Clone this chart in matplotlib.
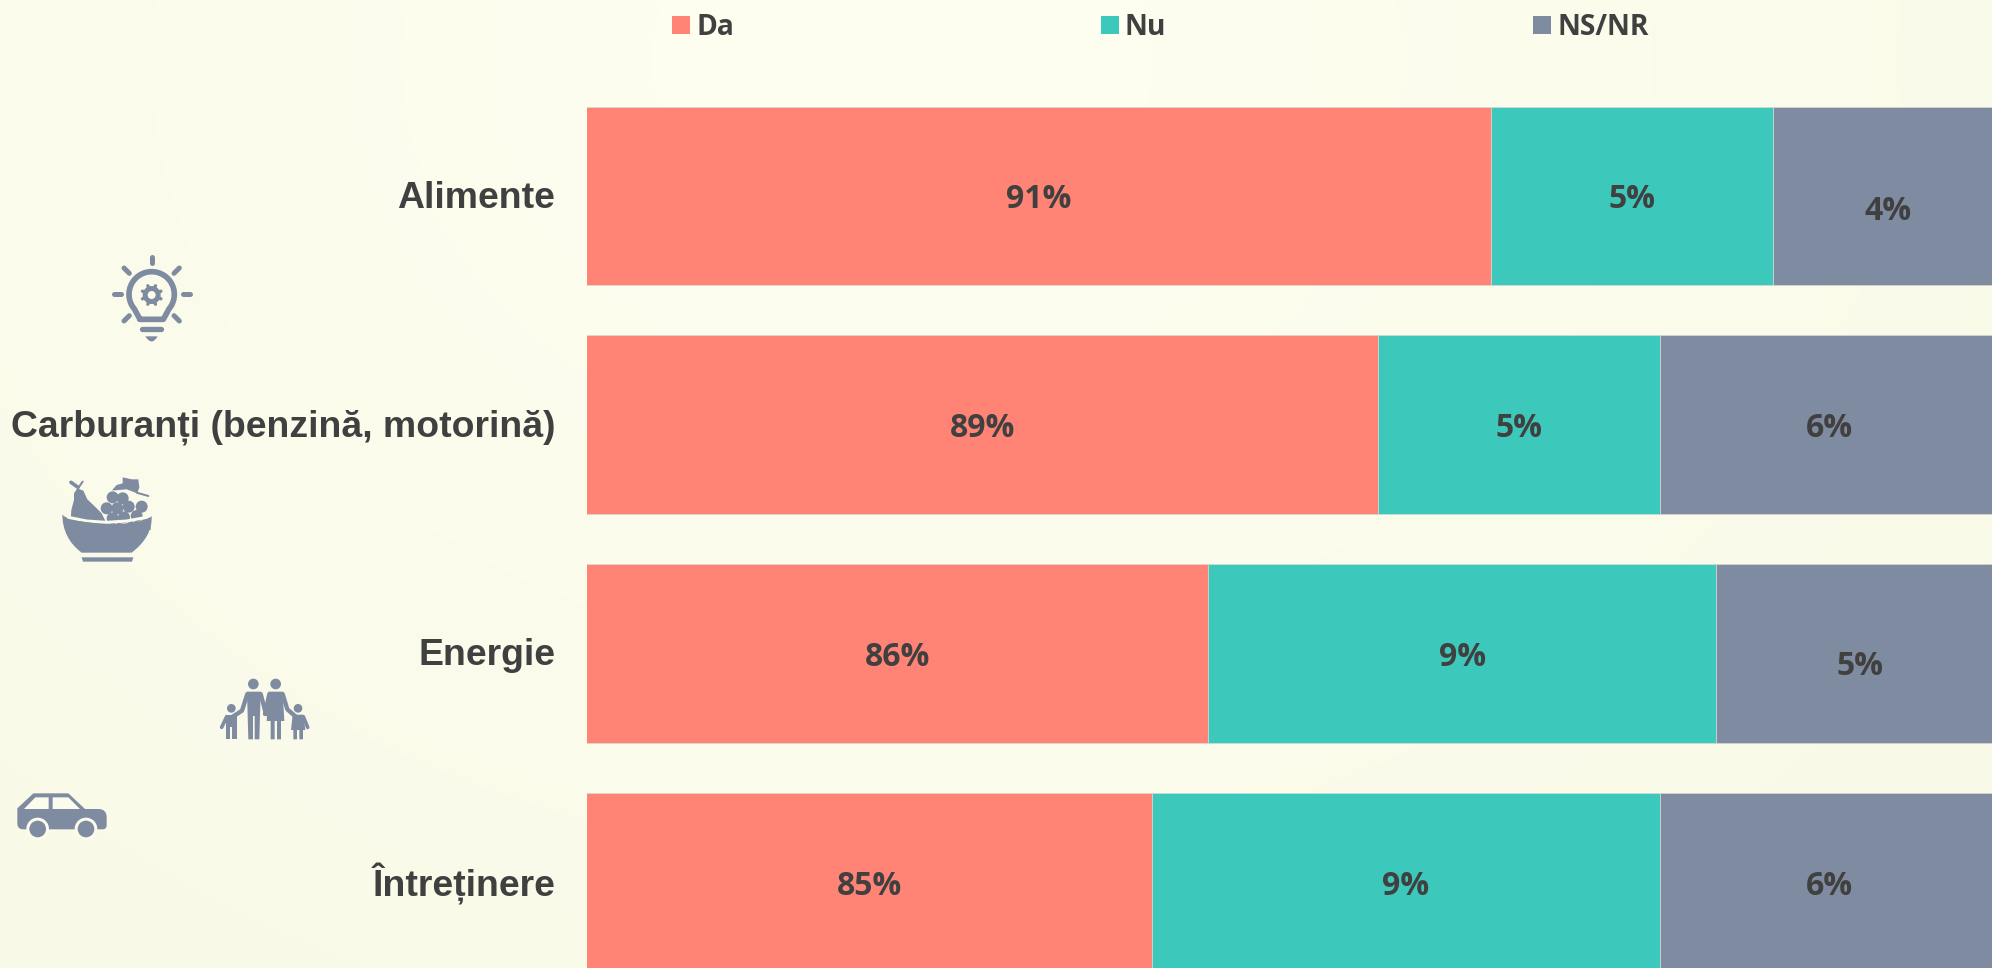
import numpy as np
import matplotlib
matplotlib.use("Agg")
import matplotlib.pyplot as plt
from matplotlib.patches import Circle, Polygon, PathPatch, Patch
from matplotlib.path import Path
from matplotlib.transforms import ScaledTranslation

categories = ["Alimente", "Carburanți (benzină, motorină)", "Energie", "Întreținere"]
da = [91, 89, 86, 85]
nu = [5, 5, 9, 9]
nsnr = [4, 6, 5, 6]
series_names = ["Da", "Nu", "NS/NR"]
series_values = [da, nu, nsnr]
colors = ["#FF8475", "#3CC9BC", "#7F8BA0"]
label_shift_px = [[(0, 0), (0, 0), (2.5, -12)], [(0, 0), (0, 0), (0, 0)],
                  [(0, 0), (0, 0), (2.5, -9)], [(0, 0), (0, 0), (0, 0)]]

TXT = "#404040"
ICON = "#7F8BA0"
BG = "#FBFCEC"
W, H = 1992, 968
X_START = 75
fig = plt.figure(figsize=(W / 100, H / 100), dpi=100)

# soft background wash
bg = fig.add_axes([0, 0, 1, 1], zorder=0)
yy, xx = np.mgrid[0:H:2, 0:W:4]
d = np.clip(np.hypot((xx - 900) / 1250, (yy - 60) / 1000), 0, 1)[..., None]
c0 = np.array([0xFE, 0xFF, 0xF1]) / 255
c1 = np.array([0xF9, 0xFA, 0xE8]) / 255
bg.imshow(c0 + (c1 - c0) * d, extent=(0, W, H, 0), aspect="auto", interpolation="bilinear")
bg.axis("off")

# chart axes: spans from the first bar's left edge to the right/bottom of the image
L = 587
ax = fig.add_axes([L / W, 0, (W - L) / W, 1], zorder=1)
ax.patch.set_alpha(0)
px_per_unit = 56.47
pitch = 228.7
ax.set_xlim(X_START, X_START + (W - L) / px_per_unit)
ax.set_ylim((H - 196.0) / pitch, -196.0 / pitch)
y = np.arange(len(categories))
left = np.zeros(len(categories))
for s, (name, vals, col) in enumerate(zip(series_names, series_values, colors)):
    ax.barh(y, vals, left=left, height=178.5 / pitch, color=col, label=name,
            edgecolor="#D5DAD6", linewidth=0.5)
    for i, (v, l) in enumerate(zip(vals, left)):
        dx, dy = label_shift_px[i][s]
        cx = (max(l, X_START) + l + v) / 2
        ax.annotate(f"{v}%", (cx, i), xytext=(dx * 0.72, (dy - 4) * 0.72), textcoords="offset points",
                    ha="center", va="center", fontsize=23, fontweight="bold", family="Open Sans", color=TXT)
    left = left + np.array(vals)
ax.set_yticks(y, categories, fontsize=26.9, fontweight="bold", family="Liberation Sans", color=TXT)
ax.set_xticks([])
ax.tick_params(axis="y", length=0, pad=23)
shift = ScaledTranslation(0, 2 / 100, fig.dpi_scale_trans)
for t in ax.get_yticklabels():
    t.set_transform(t.get_transform() + shift)
for sp in ax.spines.values():
    sp.set_visible(False)

handles = [Patch(facecolor=c, label=n) for c, n in zip(colors, series_names)]
fig.legend(handles=handles, ncol=3, loc="upper left", bbox_to_anchor=(672 / W, 1 - 13 / H),
           bbox_transform=fig.transFigure, frameon=False, borderpad=0, borderaxespad=0,
           prop={"family": "Open Sans", "weight": "bold", "size": 20.3},
           labelcolor=TXT, handlelength=0.64, handleheight=0.64, handletextpad=0.22, columnspacing=13.0)

# icons, overlay in pixel coordinates
ov = fig.add_axes([0, 0, 1, 1], zorder=2)
ov.set_xlim(0, W)
ov.set_ylim(H, 0)
ov.axis("off")
ov.patch.set_alpha(0)

def z1(*p):
    return (p[0] / 3, 230 + p[1] / 3)
def z2(*p):
    return (p[0] / 3, 640 + p[1] / 3)
def line(z, pts, w, color=ICON, cap="round"):
    xy = np.array([z(*p) for p in pts])
    ov.plot(xy[:, 0], xy[:, 1], color=color, lw=w / 3 * 0.72, solid_capstyle=cap, solid_joinstyle="round", zorder=1)
def poly(z, pts, color=ICON):
    ov.add_patch(Polygon([z(*p) for p in pts], closed=True, fc=color, ec="none", zorder=1))
def circ(z, c, r, color=ICON):
    ov.add_patch(Circle(z(*c), r / 3, fc=color, ec="none", zorder=1))
def curve(z, verts, codes, color=ICON):
    ov.add_patch(PathPatch(Path([z(*v) for v in verts], codes), fc=color, ec="none", zorder=1))
M, L_, C3, CL = Path.MOVETO, Path.LINETO, Path.CURVE3, Path.CLOSEPOLY

# bulb
for a, b in [((455, 80), (455, 100)), ((341, 193), (362, 193)), ((548, 193), (569, 193)),
             ((372, 114), (388, 130)), ((538, 114), (522, 130)), ((372, 273), (388, 257)), ((538, 273), (522, 257))]:
    line(z1, [a, b], 15)
outline = [(420, 268)] + [(455 + 68 * np.cos(t), 193 - 68 * np.sin(t))
                          for t in np.radians(np.linspace(220, -40, 40))] + [(490, 268), (420, 268)]
line(z1, outline, 17)
line(z1, [(427, 296), (483, 296)], 16)
curve(z1, [(436, 319), (473, 319), (455, 350), (436, 319), (436, 319)], [M, L_, C3, C3, CL])
circ(z1, (455, 195), 27)
for t in np.radians(np.arange(0, 360, 45) + 22.5):
    line(z1, [(455, 195), (455 + 30 * np.cos(t), 195 + 30 * np.sin(t))], 10)
circ(z1, (455, 195), 12, BG)

# fruit bowl
curve(z1, [(187, 852), (190, 872), (320, 878), (450, 872), (455, 858), (458, 920), (395, 968),
           (245, 968), (187, 925), (187, 852), (187, 852)],
      [M, C3, C3, C3, L_, C3, C3, L_, C3, C3, CL])
poly(z1, [(245, 982), (400, 982), (396, 995), (249, 995)])
poly(z1, [(232, 775), (250, 782), (262, 808), (285, 830), (305, 850), (317, 875), (212, 868),
          (214, 840), (222, 810), (222, 790)])
line(z1, [(213, 757), (234, 772)], 11)
line(z1, [(236, 772), (248, 755)], 6)
poly(z1, [(335, 782), (350, 765), (368, 760), (368, 742), (395, 748), (415, 748), (418, 772), (412, 790), (380, 778)])
line(z1, [(410, 788), (445, 798)], 6)
grapes = [(338, 802), (368, 805), (320, 835), (352, 835), (386, 830), (425, 830), (338, 865), (372, 862), (410, 858)]
for c in grapes:
    circ(z1, c, 20, BG)
for c in grapes:
    circ(z1, c, 18)
line(z1, [(205, 862), (260, 873), (320, 877), (380, 873), (440, 862)], 9, BG)
curve(z1, [(192, 868), (260, 881), (320, 882), (380, 881), (452, 868), (452, 900), (192, 900)],
      [M, L_, L_, L_, L_, L_, CL])

# family
circ(z2, (760, 132), 16)
circ(z2, (827, 132), 16)
circ(z2, (694, 205), 13)
circ(z2, (894, 205), 13)
poly(z2, [(741, 155), (782, 155), (778, 298), (764, 298), (764, 228), (759, 228), (759, 298), (745, 298)])
line(z2, [(742, 162), (726, 212), (692, 234)], 13)
line(z2, [(782, 162), (798, 222)], 13)
poly(z2, [(806, 155), (848, 155), (853, 243), (843, 243), (843, 298), (831, 298), (831, 243), (824, 243),
          (824, 298), (812, 298), (812, 243), (800, 243)])
line(z2, [(808, 162), (795, 222)], 13)
line(z2, [(848, 162), (862, 208), (892, 234)], 13)
poly(z2, [(678, 224), (710, 224), (710, 298), (697, 298), (697, 262), (691, 262), (691, 298), (678, 298)])
line(z2, [(680, 230), (665, 262)], 11)
poly(z2, [(878, 224), (910, 224), (916, 270), (909, 270), (909, 298), (898, 298), (898, 270), (891, 270),
          (891, 298), (880, 298), (880, 270), (873, 270)])
line(z2, [(910, 230), (923, 262)], 11)

# car
curve(z2, [(52, 505), (100, 460), (205, 460), (255, 507), (295, 507), (320, 507), (320, 532), (320, 555),
           (320, 568), (308, 568), (70, 568), (52, 568), (52, 550), (52, 505)],
      [M, L_, L_, L_, L_, C3, C3, L_, C3, C3, L_, C3, C3, CL])
poly(z2, [(72, 507), (106, 472), (146, 472), (146, 507)], BG)
poly(z2, [(158, 472), (205, 472), (240, 507), (158, 507)], BG)
for c in [(113, 567), (258, 567)]:
    circ(z2, c, 34, BG)
    circ(z2, c, 25)

fig.savefig("out.png", dpi=100)
